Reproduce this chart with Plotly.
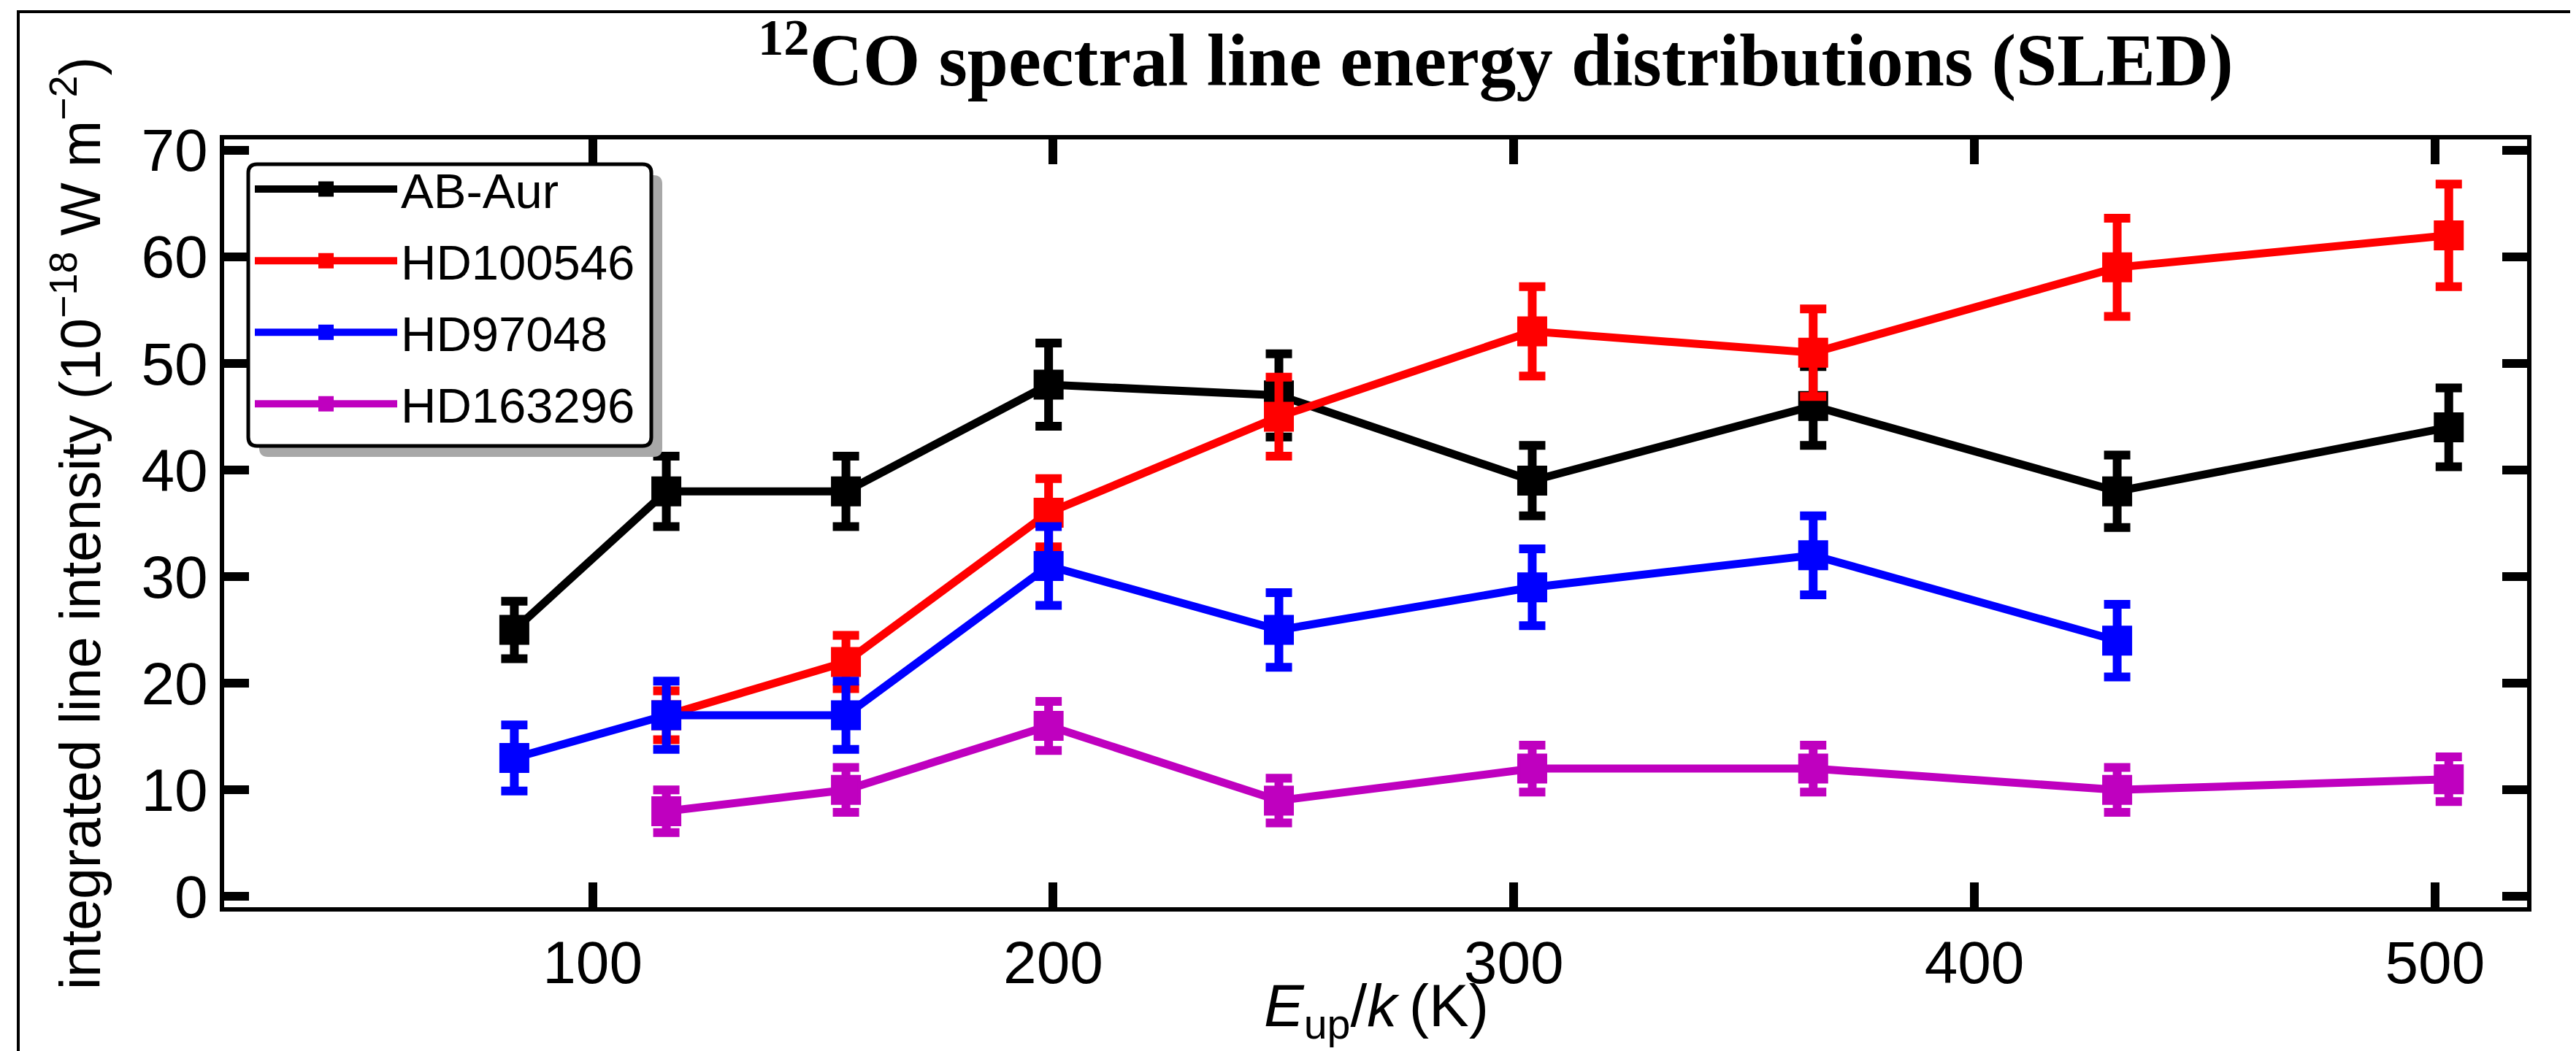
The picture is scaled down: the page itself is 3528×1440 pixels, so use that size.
import plotly.graph_objects as go

# ---- data ----
ab_aur_x = [83, 116, 155, 199, 249, 304, 365, 431, 503]
ab_aur_y = [25, 38, 38, 48, 47, 39, 46, 38, 44]
ab_aur_err = [2.7, 3.3, 3.3, 3.9, 3.9, 3.3, 3.7, 3.4, 3.7]

hd100546_x = [116, 155, 199, 249, 304, 365, 431, 503]
hd100546_y = [17, 22, 36, 45, 53, 51, 59, 62]
hd100546_err = [2.3, 2.5, 3.2, 3.7, 4.2, 4.1, 4.6, 4.8]

hd97048_x = [83, 116, 155, 199, 249, 304, 365, 431]
hd97048_y = [13, 17, 17, 31, 25, 29, 32, 24]
hd97048_err = [3.1, 3.2, 3.2, 3.7, 3.5, 3.6, 3.7, 3.4]

hd163296_x = [116, 155, 199, 249, 304, 365, 431, 503]
hd163296_y = [8, 10, 16, 9, 12, 12, 10, 11]
hd163296_err = [2.0, 2.1, 2.3, 2.1, 2.2, 2.2, 2.1, 2.1]

series = [
    ("AB-Aur", ab_aur_x, ab_aur_y, ab_aur_err, "#000000"),
    ("HD100546", hd100546_x, hd100546_y, hd100546_err, "#ff0000"),
    ("HD97048", hd97048_x, hd97048_y, hd97048_err, "#0000ff"),
    ("HD163296", hd163296_x, hd163296_y, hd163296_err, "#bf00bf"),
]

x_ticks = [100, 200, 300, 400, 500]
y_ticks = [0, 10, 20, 30, 40, 50, 60, 70]

W, H = 3528, 1440
L, R, T, B = 299, 3453, 183, 1235   # plot area in pixels
pw, ph = R - L, B - T


def px(x):
    return (x - L) / pw


def py(y):
    return (B - y) / ph


def rounded_rect(x0, y0, x1, y1, r):
    """SVG path (paper coords) for a rounded rectangle given in pixels."""
    pts = [
        f"M {px(x0 + r)} {py(y0)}",
        f"L {px(x1 - r)} {py(y0)}",
        f"Q {px(x1)} {py(y0)} {px(x1)} {py(y0 + r)}",
        f"L {px(x1)} {py(y1 - r)}",
        f"Q {px(x1)} {py(y1)} {px(x1 - r)} {py(y1)}",
        f"L {px(x0 + r)} {py(y1)}",
        f"Q {px(x0)} {py(y1)} {px(x0)} {py(y1 - r)}",
        f"L {px(x0)} {py(y0 + r)}",
        f"Q {px(x0)} {py(y0)} {px(x0 + r)} {py(y0)}",
        "Z",
    ]
    return " ".join(pts)


fig = go.Figure()
for name, xs, ys, es, col in series:
    fig.add_trace(go.Scatter(
        x=xs, y=ys, name=name, legendgroup=name, mode="lines+markers",
        line=dict(color=col, width=11),
        marker=dict(symbol="square", size=36, color=col,
                    line=dict(color=col, width=5)),
        error_y=dict(type="data", array=es, visible=True, color=col,
                     thickness=12, width=18),
    ))

sans = "Liberation Sans, Arial, sans-serif"
tickfont = dict(family=sans, size=82, color="black")

# legend frame as in the reference (pixels)
LG_X0, LG_Y0, LG_X1, LG_Y1 = 332, 217, 884, 603
SH = 15  # shadow offset

fig.update_layout(
    width=W, height=H,
    margin=dict(l=L, r=W - R, t=T, b=H - B, autoexpand=False),
    paper_bgcolor="white", plot_bgcolor="white",
    showlegend=True,
    legend=dict(
        x=px(LG_X0 + 4), y=py(201), xanchor="left", yanchor="top",
        bgcolor="rgba(0,0,0,0)", borderwidth=0,
        font=dict(family=sans, size=67, color="black"),
        itemwidth=195, tracegroupgap=8, traceorder="grouped",
    ),
    xaxis=dict(
        range=[20, 520], tickvals=x_ticks, ticktext=[str(v) for v in x_ticks],
        showline=True, linecolor="black", linewidth=6, mirror="allticks",
        ticks="inside", ticklen=34, tickwidth=12, tickcolor="black",
        tickfont=tickfont, showgrid=False, zeroline=False,
    ),
    yaxis=dict(
        range=[-1, 71], tickvals=y_ticks, ticktext=[str(v) for v in y_ticks],
        showline=True, linecolor="black", linewidth=6, mirror="allticks",
        ticks="inside", ticklen=34, tickwidth=12, tickcolor="black",
        tickfont=tickfont, showgrid=False, zeroline=False,
        title=dict(text="integrated line intensity (10<sup>\u221218</sup> W m<sup>\u22122</sup>)",
                   font=dict(family=sans, size=77, color="black"),
                   standoff=32),
    ),
    annotations=[
        dict(
            text="<b><sup>12</sup>CO spectral line energy distributions (SLED)</b>",
            xref="paper", yref="paper", x=px(2040), y=py(68),
            xanchor="center", yanchor="middle", showarrow=False,
            font=dict(family="Liberation Serif, Times New Roman, serif", size=101, color="black"),
        ),
        dict(
            text="<i>E</i><sub>up</sub>/<i>k</i>\u2009(K)",
            xref="paper", yref="paper", x=px(1877), y=py(1375),
            xanchor="center", yanchor="middle", showarrow=False,
            font=dict(family=sans, size=82, color="black"),
        ),
    ],
    shapes=[
        # figure frame
        dict(type="rect", xref="paper", yref="paper",
             x0=px(17), x1=px(3522), y0=py(1446), y1=py(8),
             line=dict(color="black", width=4), fillcolor="rgba(0,0,0,0)", layer="below"),
        # legend drop shadow
        dict(type="path", xref="paper", yref="paper",
             path=rounded_rect(LG_X0 + SH, LG_Y0 + SH, LG_X1 + SH, LG_Y1 + SH, 12),
             line=dict(width=0), fillcolor="#a8a8a8", layer="above"),
        # legend frame
        dict(type="path", xref="paper", yref="paper",
             path=rounded_rect(LG_X0, LG_Y0, LG_X1, LG_Y1, 12),
             line=dict(color="black", width=5), fillcolor="white", layer="above"),
    ],
)

fig.write_html("out.html")
